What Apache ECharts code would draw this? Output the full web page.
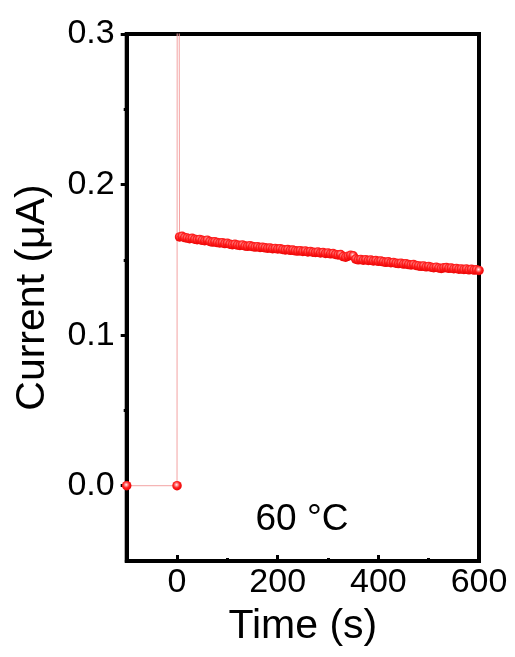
<!DOCTYPE html>
<html>
<head>
<meta charset="utf-8">
<script src="https://cdn.jsdelivr.net/npm/echarts@6/dist/echarts.min.js"></script>
<style>html,body{margin:0;padding:0;background:#fff;}#c{width:515px;height:657px;}</style>
</head>
<body>
<div id="c"></div>
<script>
const times = [-100, 0, 1,
  5,10,15,20,25,30,35,40,45,50,55,60,65,70,75,80,85,90,95,100,
  105,110,115,120,125,130,135,140,145,150,155,160,165,170,175,180,185,190,195,200,
  205,210,215,220,225,230,235,240,245,250,255,260,265,270,275,280,285,290,295,300,
  305,310,315,320,325,330,335,340,345,350,355,360,365,370,375,380,385,390,395,400,
  405,410,415,420,425,430,435,440,445,450,455,460,465,470,475,480,485,490,495,500,
  505,510,515,520,525,530,535,540,545,550,555,560,565,570,575,580,585,590,595,600];
const currents = [0, 0, 1.0,
  0.1652,0.1656,0.1648,0.1645,0.1641,0.1643,0.1637,0.1634,0.1636,0.1630,0.1627,0.1631,0.1622,0.1618,0.1620,0.1615,0.1612,0.1614,0.1608,0.1610,
  0.1604,0.1601,0.1603,0.1598,0.1596,0.1599,0.1592,0.1590,0.1594,0.1588,0.1585,0.1587,0.1582,0.1584,0.1580,0.1577,0.1579,0.1574,0.1576,0.1572,
  0.1574,0.1569,0.1566,0.1568,0.1563,0.1565,0.1560,0.1558,0.1561,0.1556,0.1559,0.1553,0.1556,0.1551,0.1549,0.1552,0.1546,0.1549,0.1543,0.1546,
  0.1540,0.1542,0.1536,0.1533,0.1535,0.1522,0.1518,0.1524,0.1530,0.1527,0.1505,0.1500,0.1503,0.1498,0.1501,0.1496,0.1499,0.1493,0.1495,0.1490,
  0.1493,0.1487,0.1484,0.1487,0.1481,0.1483,0.1478,0.1475,0.1478,0.1472,0.1474,0.1469,0.1466,0.1469,0.1463,0.1460,0.1457,0.1460,0.1454,0.1456,
  0.1451,0.1448,0.1451,0.1446,0.1443,0.1447,0.1449,0.1444,0.1446,0.1441,0.1443,0.1438,0.1440,0.1436,0.1439,0.1434,0.1437,0.1432,0.1434,0.1430];
const xMajorTicks = [0, 200, 400, 600];
const xMinorTicks = [100, 300, 500];
const yMajorTicks = [0, 0.1, 0.2, 0.3];
const yMinorTicks = [0.05, 0.15, 0.25];

const FONT = "'Liberation Sans', Arial, sans-serif";
const chart = echarts.init(document.getElementById('c'), null, {renderer: 'canvas'});
const data = times.map((t, i) => [t, currents[i]]);

const markerColor = {
  type: 'radial', x: 0.45, y: 0.4, r: 0.6,
  colorStops: [
    {offset: 0, color: '#fff2f2'},
    {offset: 0.25, color: '#ff8c8c'},
    {offset: 0.55, color: '#ff2020'},
    {offset: 1, color: '#ea0000'}
  ]
};

chart.setOption({
  animation: false,
  backgroundColor: '#fff',
  grid: {left: 126.7, right: 36, top: 34, bottom: 96, show: true, borderColor: '#000', borderWidth: 4, backgroundColor: 'transparent'},
  xAxis: [{
    type: 'value', min: -100, max: 600,
    splitLine: {show: false},
    axisLine: {show: true, onZero: false, lineStyle: {color: '#000', width: 4}},
    axisTick: {show: true, inside: true, length: 6, lineStyle: {color: '#000', width: 3}, customValues: xMajorTicks},
    axisLabel: {show: true, customValues: xMajorTicks, margin: 5, color: '#000', fontSize: 34, fontFamily: FONT},
    name: 'Time (s)', nameLocation: 'middle', nameGap: 45,
    nameTextStyle: {color: '#000', fontSize: 41, fontFamily: FONT}
  }, {
    type: 'value', min: -100, max: 600, position: 'bottom',
    splitLine: {show: false},
    axisLine: {show: false, onZero: false},
    axisTick: {show: true, inside: true, length: 3, lineStyle: {color: '#000', width: 3}, customValues: xMinorTicks},
    axisLabel: {show: false}
  }],
  yAxis: [{
    type: 'value', min: -0.05, max: 0.3,
    splitLine: {show: false},
    axisLine: {show: true, onZero: false, lineStyle: {color: '#000', width: 4}},
    axisTick: {show: true, inside: false, length: 6, lineStyle: {color: '#000', width: 3}, customValues: yMajorTicks},
    axisLabel: {show: true, customValues: yMajorTicks, margin: 12, color: '#000', fontSize: 34, fontFamily: FONT,
      formatter: v => Number(v).toFixed(1)},
    name: 'Current (\u03bcA)', nameLocation: 'middle', nameGap: 74, nameRotate: 90,
    nameTextStyle: {color: '#000', fontSize: 41, fontFamily: FONT}
  }, {
    type: 'value', min: -0.05, max: 0.3, position: 'left',
    splitLine: {show: false},
    axisLine: {show: false, onZero: false},
    axisTick: {show: true, inside: false, length: 3, lineStyle: {color: '#000', width: 3}, customValues: yMinorTicks},
    axisLabel: {show: false}
  }],
  graphic: [{
    type: 'text', x: 302, y: 520,
    style: {text: '60 \u00b0C', fill: '#000', font: "37px 'Liberation Sans', Arial, sans-serif", textAlign: 'center', textVerticalAlign: 'middle'}
  }],
  series: [{
    type: 'line', xAxisIndex: 0, yAxisIndex: 0,
    data: data, clip: true,
    showAllSymbol: true,
    symbol: 'circle', symbolSize: 9.5,
    lineStyle: {color: '#f3a3a3', width: 1},
    itemStyle: {color: markerColor, borderWidth: 0},
    z: 1
  }]
});
</script>
</body>
</html>
